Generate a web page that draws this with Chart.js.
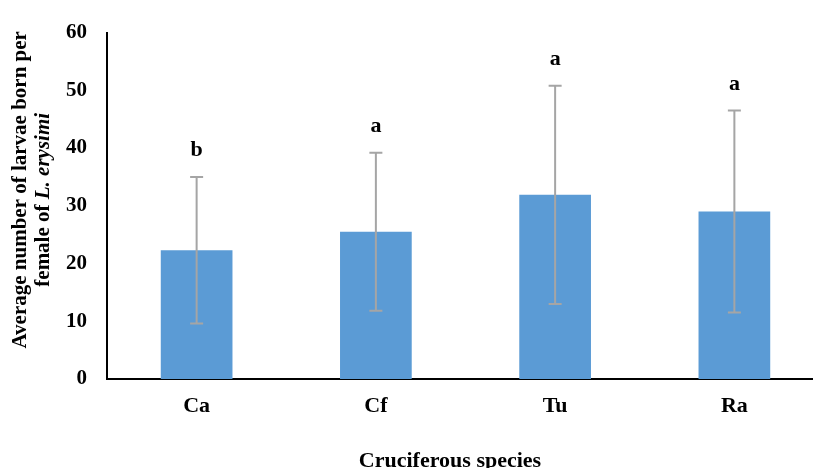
<!DOCTYPE html>
<html><head><meta charset="utf-8">
<script src="https://cdn.jsdelivr.net/npm/chart.js@4.4.1/dist/chart.umd.min.js"></script>
<style>
html,body{margin:0;padding:0;overflow:hidden;background:#fff;width:813px;height:468px}
#wrap{position:absolute;left:0;top:0;width:830px;height:482px}
</style></head>
<body><div id="wrap"><canvas id="c" width="830" height="482"></canvas></div>
<script>
const categories = ['Ca', 'Cf', 'Tu', 'Ra'];
const means = [22.3, 25.5, 31.9, 29.0];
const errors = [12.7, 13.7, 18.9, 17.5];
const letters = ['b', 'a', 'a', 'a'];
const yTicks = [0, 10, 20, 30, 40, 50, 60];
const yTitleLine1 = 'Average number of larvae born per';
const yTitleLine2a = 'female of ';
const yTitleLine2b = 'L. erysimi';
const xTitle = 'Cruciferous species';

const FONT = '"Liberation Serif", "Times New Roman", serif';

const overlay = {
  id: 'overlay',
  afterDatasetsDraw(chart) {
    const ctx = chart.ctx;
    const meta = chart.getDatasetMeta(0);
    const ys = chart.scales.y;
    ctx.save();
    meta.data.forEach((bar, i) => {
      const x = bar.x;
      const top = ys.getPixelForValue(means[i] + errors[i]);
      const bot = ys.getPixelForValue(means[i] - errors[i]);
      ctx.strokeStyle = '#A5A5A5';
      ctx.lineWidth = 2;
      ctx.beginPath();
      ctx.moveTo(x, top); ctx.lineTo(x, bot);
      ctx.moveTo(x - 6.5, top); ctx.lineTo(x + 6.5, top);
      ctx.moveTo(x - 6.5, bot); ctx.lineTo(x + 6.5, bot);
      ctx.stroke();
      ctx.fillStyle = '#000';
      ctx.font = 'bold 22px ' + FONT;
      ctx.textAlign = 'center';
      ctx.textBaseline = 'alphabetic';
      ctx.fillText(letters[i], x, top - 21);
    });
    ctx.restore();
  },
  afterDraw(chart) {
    const ctx = chart.ctx;
    const ca = chart.chartArea;
    const cy = (ca.top + ca.bottom) / 2;
    ctx.save();
    ctx.fillStyle = '#000';
    // y title
    ctx.translate(21, cy - 16);
    ctx.rotate(-Math.PI / 2);
    ctx.font = 'bold 21px ' + FONT;
    ctx.textAlign = 'center';
    ctx.textBaseline = 'middle';
    ctx.fillText(yTitleLine1, 0, 0);
    ctx.restore();
    ctx.save();
    ctx.fillStyle = '#000';
    ctx.translate(44, cy - 6);
    ctx.rotate(-Math.PI / 2);
    ctx.textBaseline = 'middle';
    ctx.textAlign = 'left';
    ctx.font = 'bold 21px ' + FONT;
    const w1 = ctx.measureText(yTitleLine2a).width;
    ctx.font = 'italic bold 21px ' + FONT;
    const w2 = ctx.measureText(yTitleLine2b).width;
    const start = -(w1 + w2) / 2;
    ctx.font = 'bold 21px ' + FONT;
    ctx.fillText(yTitleLine2a, start, 0);
    ctx.font = 'italic bold 21px ' + FONT;
    ctx.fillText(yTitleLine2b, start + w1, 0);
    ctx.restore();
    // x title
    ctx.save();
    ctx.fillStyle = '#000';
    ctx.font = 'bold 22px ' + FONT;
    ctx.textAlign = 'center';
    ctx.textBaseline = 'middle';
    ctx.fillText(xTitle, ca.left + 343, ca.bottom + 82);
    ctx.restore();
  }
};

new Chart(document.getElementById('c'), {
  type: 'bar',
  data: {
    labels: categories,
    datasets: [{
      data: means,
      backgroundColor: '#5B9BD5',
      borderWidth: 0,
      barPercentage: 0.4,
      categoryPercentage: 1.0
    }]
  },
  options: {
    responsive: false,
    animation: false,
    devicePixelRatio: 1,
    layout: { padding: { left: 0, right: 6, top: 27, bottom: 0 } },
    plugins: { legend: { display: false }, tooltip: { enabled: false } },
    scales: {
      x: {
        grid: { display: false, drawTicks: false, tickLength: 0 },
        border: { display: true, color: '#000', width: 2 },
        ticks: { color: '#000', padding: 14, font: { family: FONT, size: 22, weight: 'bold' } },
        afterFit(s) { s.height = 103; }
      },
      y: {
        min: 0, max: 60,
        grid: { display: false, drawTicks: false, tickLength: 0 },
        border: { display: true, color: '#000', width: 2 },
        afterBuildTicks(s) { s.ticks = yTicks.map(v => ({ value: v })); },
        ticks: { color: '#000', padding: 20, font: { family: FONT, size: 21, weight: 'bold' } },
        afterFit(s) { s.width = 107; }
      }
    }
  },
  plugins: [overlay]
});
</script>
</body></html>
